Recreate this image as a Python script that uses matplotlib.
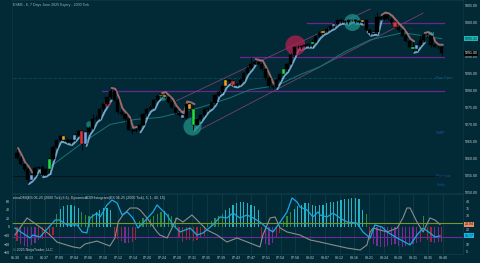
import numpy as np
import matplotlib
matplotlib.use("Agg")
import matplotlib.pyplot as plt
from matplotlib import transforms

# ---- price bars (2000 tick) ----
close = [5260.25, 5258.25, 5256.75, 5253.75, 5255.25, 5257.25, 5257.5, 5255.25, 5256.75, 5259.75,
         5263.5, 5265.5, 5266.5, 5265.5, 5264.75, 5265.5, 5267.0, 5268.0, 5264.25, 5267.75,
         5269.0, 5271.5, 5272.0, 5274.5, 5276.0, 5278.0, 5280.0, 5277.25, 5273.75, 5273.0,
         5271.5, 5268.5, 5268.0, 5268.5, 5270.0, 5273.0, 5274.5, 5275.25, 5277.25, 5278.5,
         5278.75, 5278.0, 5276.75, 5275.0, 5273.5, 5272.75, 5272.0, 5276.0, 5274.5, 5270.0,
         5271.5, 5272.75, 5274.5, 5275.0, 5276.5, 5278.75, 5279.75, 5281.5, 5283.25, 5282.75,
         5281.75, 5282.0, 5283.25, 5285.25, 5286.75, 5288.0, 5288.5, 5288.0, 5286.25, 5283.75,
         5281.5, 5281.0, 5283.25, 5285.0, 5286.25, 5288.0, 5290.5, 5293.0, 5292.75, 5293.25,
         5293.5, 5293.75, 5294.5, 5296.25, 5297.0, 5297.75, 5298.25, 5299.0, 5299.75, 5300.75,
         5300.5, 5300.25, 5300.75, 5300.75, 5300.5, 5300.25, 5300.75, 5298.0, 5297.0, 5297.25,
         5301.75, 5301.25, 5302.25, 5301.25, 5300.25, 5298.75, 5298.0, 5296.25, 5294.75, 5293.0,
         5292.25, 5293.5, 5295.0, 5296.5, 5296.0, 5293.5, 5293.0, 5292.75, 5291.0]
first_open = 5261.5
hi_ext = [1.25, 0.5, 0.25, 0.5, 0.25, 0.5, 0.25, 0.5, 0.25, 0.75,
          0.5, 0.25, 0.5, 0.25, 0.5, 0.25, 0.5, 0.25, 0.5, 0.25,
          0.5, 1.5, 0.75, 0.25, 0.5, 0.25, 0.5, 0.25, 0.5, 0.75,
          0.25, 0.5, 0.25, 0.5, 0.25, 0.5, 0.25, 0.5, 0.25, 0.5,
          0.25, 0.5, 0.25, 0.5, 0.25, 0.5, 0.25, 0.5, 0.25, 1.25,
          0.5, 0.25, 0.5, 0.25, 0.5, 0.25, 0.5, 0.25, 0.5, 0.25,
          0.5, 0.25, 0.5, 0.25, 0.5, 2.0, 0.5, 0.25, 0.5, 0.25,
          0.5, 0.25, 0.5, 0.25, 0.5, 0.25, 0.5, 0.25, 0.5, 0.25,
          0.5, 0.25, 0.75, 0.25, 0.5, 0.25, 0.5, 0.25, 0.5, 0.25,
          0.5, 0.25, 0.5, 0.25, 0.5, 0.25, 0.5, 0.25, 0.5, 0.25,
          1.5, 0.25, 0.5, 0.25, 0.5, 0.25, 0.5, 0.25, 0.5, 0.25,
          1.25, 0.5, 1.5, 0.25, 0.5, 0.25, 0.5, 0.25, 0.5]
lo_ext = [0.5, 0.25, 0.5, 1.0, 0.25, 0.5, 0.25, 0.5, 0.25, 1.0,
          0.25, 0.5, 0.25, 0.5, 0.25, 0.5, 0.25, 0.5, 1.75, 0.25,
          0.5, 0.25, 0.5, 0.25, 0.5, 0.25, 0.5, 0.25, 0.5, 0.25,
          0.5, 0.25, 0.75, 0.25, 0.5, 0.25, 0.5, 0.25, 0.5, 0.25,
          0.5, 0.25, 0.5, 0.25, 0.5, 0.25, 0.5, 0.25, 0.5, 1.5,
          0.25, 0.5, 0.25, 0.5, 0.25, 0.5, 0.25, 0.5, 0.25, 0.5,
          0.25, 0.5, 0.25, 0.5, 0.25, 0.5, 0.25, 0.5, 0.25, 0.5,
          0.75, 0.5, 0.25, 0.5, 0.25, 0.5, 0.25, 0.5, 0.25, 0.5,
          0.25, 0.5, 0.75, 0.25, 0.5, 0.25, 0.5, 0.25, 0.5, 0.25,
          0.5, 0.25, 0.5, 0.25, 0.5, 0.25, 0.5, 0.25, 0.5, 0.25,
          0.5, 0.25, 0.5, 0.25, 0.5, 0.25, 0.5, 0.25, 0.5, 0.25,
          0.75, 0.5, 0.25, 0.5, 0.25, 0.5, 0.25, 0.5, 0.75]

# painted bars (bar index -> colour name)
painted = {4: "blue", 9: "green", 13: "orange", 16: "blue", 18: "red", 19: "blue",
           40: "orange", 41: "orange", 46: "blue", 48: "orange", 49: "green", 58: "orange",
           60: "red", 74: "green", 82: "green", 85: "orange", 88: "blue", 93: "blue",
           96: "orange", 99: "blue", 105: "red", 110: "green", 111: "blue", 114: "red"}

# trail runs (first bar, last bar)
up_runs = [(3, 9), (9, 17), (19, 26), (34, 40), (49, 57), (57, 66), (72, 82), (82, 96), (97, 101), (110, 113)]
down_runs = [(0, 4), (26, 33), (40, 49), (66, 71), (101, 110), (113, 118)]

sma_idx = [9, 17.5, 25.8, 32.8, 39.7, 50.8, 59.2, 64.7, 72.2, 78.6, 84.2, 91.1, 98.1, 107.2, 114.7, 118]
sma_val = [5257.35, 5264.1, 5270.0, 5271.5, 5272.1, 5275.0, 5277.9, 5280.3, 5281.5, 5284.7,
           5287.1, 5291.5, 5295.0, 5297.1, 5295.9, 5295.31]

# horizontal levels: (price, first bar)
purple_levels = [(5300.0, 80.6), (5290.0, 61.9), (5280.0, 23.6)]
prior_open = 5283.75
prior_low = 5254.75

# channel lines: (bar0, price0, bar1, price1)
channel = [(44.4, 5277.06, 98.1, 5304.1), (50.8, 5268.5, 112.8, 5302.9)]

# circle markers: (bar, price, size, colour)
circles = [(77.2, 5293.5, 210, "#b3204f"), (93.1, 5300.3, 150, "#1f9088"),
           (48.6, 5269.7, 170, "#1f9088"), (20.0, 5270.3, 22, "#1f9088"),
           (25.0, 5276.5, 22, "#b3204f"), (40.5, 5278.2, 22, "#1f9088")]

time_labels = ["06:30", "06:33", "06:37", "07:00", "07:04", "07:06", "07:10", "07:12", "07:14", "07:20",
               "07:24", "07:28", "07:31", "07:35", "07:39", "07:43", "07:47", "07:51", "07:54", "07:58",
               "08:02", "08:07", "08:12", "08:16", "08:21", "08:24", "08:28", "08:31", "08:35", "08:40"]

# ---- indicator panel ----
dmi_idx = [-0.6, 3.6, 4.4, 6.4, 10.6, 11.9, 13.9, 16.7, 18.1, 19.4, 20.3, 22.2, 23.1, 25.0, 26.4,
           27.8, 29.2, 30.6, 32.2, 33.6, 35.0, 37.8, 38.9, 39.7, 41.7, 43.3, 45.3, 48.1, 50.0, 51.7,
           54.4, 56.4, 58.3, 60.0, 61.9, 63.9, 65.6, 67.5, 69.4, 71.1, 73.1, 75.0, 76.4, 77.8, 78.6,
           80.6, 82.2, 83.6, 84.2, 86.1, 87.8, 89.7, 91.7, 94.4, 96.1, 98.1, 99.4, 101.4, 102.8, 105.6,
           109.2, 111.1, 112.8, 114.7, 116.1, 117.5]
dmi_val = [21.4, 14.3, 16.4, 15.0, 27.1, 27.1, 23.6, 23.6, 18.6, 17.9, 28.6, 32.1, 29.3, 37.9, 41.4,
           39.3, 30.7, 32.9, 28.6, 21.4, 25.0, 32.9, 37.9, 35.7, 30.7, 23.6, 18.6, 21.4, 16.4, 17.9,
           23.6, 29.3, 28.6, 32.1, 28.6, 30.7, 28.6, 25.7, 21.4, 18.6, 25.7, 32.9, 42.9, 40.0, 36.4,
           34.3, 29.3, 32.9, 30.7, 29.3, 32.1, 28.6, 25.7, 25.0, 18.6, 14.3, 23.6, 22.1, 18.6, 14.3,
           9.3, 16.4, 21.4, 17.9, 15.0, 15.77]
adx_idx = [-0.6, 2.8, 6.4, 9.2, 11.1, 15.6, 17.5, 18.9, 22.2, 25.8, 27.2, 28.1, 29.4, 31.4, 33.3,
           34.2, 36.1, 38.9, 39.7, 41.7, 44.4, 46.1, 48.6, 50.0, 52.8, 55.6, 58.3, 61.1, 64.7, 67.5,
           68.3, 70.3, 71.7, 73.1, 75.0, 78.6, 81.4, 84.2, 87.8, 91.7, 95.3, 97.2, 98.1, 98.9, 102.8,
           105.6, 107.2, 108.3, 109.2, 111.1, 112.8, 114.7, 116.1, 117.5]
adx_val = [16.4, 28.6, 22.1, 16.4, 11.4, 7.9, 7.1, 10.0, 12.1, 8.6, 14.3, 25.7, 30.7, 35.7, 35.7,
           34.3, 28.6, 18.6, 16.4, 14.3, 28.6, 25.7, 30.7, 27.1, 20.0, 16.4, 11.4, 14.3, 10.7, 7.9,
           16.4, 28.6, 29.3, 21.4, 18.6, 16.4, 12.9, 11.4, 9.3, 7.1, 5.7, 9.3, 18.6, 21.4, 18.6,
           21.4, 28.6, 35.7, 35.7, 25.7, 18.6, 28.6, 27.1, 23.94]
adx_hist = [-32, -40, -45, -47, -42, -38, -30, -28, -25, -22, -18,
            30, 42, 48, 50, 50, 48, 45, 35, 28, 25,
            30, 36, 40, 44, 44, 40, -20, -28, -33, -37, -37, -35, -30,
            15, 20, 22, 18, 25, 30, 35, 38, 30, 25, 20,
            -25, -35, -30, -30, -32, -30, -25, -20,
            10, 15, 20, 25, 30, 40, 45, 50, 55, 58, 58, 55, 52, 48, 40,
            -30, -40, -42, -38, -25, -15,
            15, 25, 35, 42, 48, 52, 55, 55, 50, 48,
            50, 52, 55, 57, 58, 60, 62, 64, 66, 67, 67, 65,
            40, 30, -30, -40, -45, -46, -46, -44, -42, -40,
            -44, -46, -45, -43, -40, -38, -35, 25,
            -30, -35, -37, -36, -34]
adx_upper = 25
adx_lower = 15

# ---- style ----
plt.rcParams["font.family"] = ["Liberation Sans", "DejaVu Sans"]
BG = "#022a36"
TXT = "#c3cdd1"
FS = 2.6
PAINT = {"blue": "#7aa6e6", "green": "#1fe040", "orange": "#f5a21e", "red": "#e2303c"}

n = len(close)
x = np.arange(n)
opens = np.array([first_open] + close[:-1])
closes = np.array(close)
highs = np.maximum(opens, closes) + np.array(hi_ext)
lows = np.minimum(opens, closes) - np.array(lo_ext)

fig = plt.figure(figsize=(4.8, 2.63), dpi=100, facecolor=BG)
ax = fig.add_axes([0.025, 0.2662, 0.9396, 0.7338], facecolor=BG)
ax2 = fig.add_axes([0.025, 0.0342, 0.9396, 0.2282], facecolor=BG, sharex=ax)
ax3 = ax2.twinx()

# levels
for price, start in purple_levels:
    ax.plot([start, n - 0.4], [price, price], color="#6a2690", lw=0.9, zorder=1)
ax.plot([-1, n - 0.4], [prior_open, prior_open], color="#0d4b5a", lw=0.6, ls=(0, (4, 2)), zorder=1)
ax.plot([-1.4, n - 0.4], [prior_low, prior_low], color="#06161c", lw=0.7, zorder=1)
for b0, p0, b1, p1 in channel:
    ax.plot([b0, b1], [p0, p1], color="#7a3f6e", lw=0.6, zorder=1)
ax.plot(sma_idx, sma_val, color="#167676", lw=0.7, zorder=1)

# trail bands, drawn just outside the bars
for a, b in up_runs:
    ax.plot(x[a:b + 1] + 0.3, lows[a:b + 1] - 0.3, color="#8ec6ec", lw=1.4, alpha=0.8, zorder=2,
            solid_capstyle="round")
for a, b in down_runs:
    ax.plot(x[a:b + 1] + 0.3, highs[a:b + 1] + 0.3, color="#c77a78", lw=1.4, alpha=0.8, zorder=2,
            solid_capstyle="round")

# circles
for b, p, s, c in circles:
    ax.scatter([b], [p], s=s, color=c, alpha=0.75, lw=0, zorder=3)

# candles
body_col = [PAINT[painted[i]] if i in painted else "#000000" for i in range(n)]
ax.vlines(x, lows, highs, color="#000000", lw=0.6, zorder=4)
ax.bar(x, np.maximum(np.abs(closes - opens), 0.25), bottom=np.minimum(opens, closes),
       width=0.85, color=body_col, edgecolor="#000000", linewidth=0.3, zorder=5)

ax.set_xlim((12 - 17) / 3.6, (463 - 17) / 3.6)
ax.set_ylim(5249.8, 5306.76)
ax.yaxis.tick_right()
ax.set_yticks(np.arange(5250, 5306, 5))
ax.set_yticklabels([f"{v:.2f}" for v in np.arange(5250, 5306, 5)])
ax.tick_params(axis="y", labelsize=FS, colors=TXT, length=0, pad=1.2)
ax.tick_params(axis="x", bottom=False, labelbottom=False)
for s in ax.spines.values():
    s.set_color("#0d3a46")
    s.set_linewidth(0.5)

ax.text(0.003, 0.985, "ESM5 - 6, 7 Days June 2025 Expiry - 2000 Tick", transform=ax.transAxes,
        fontsize=FS, color="#9fb3bb", va="top", ha="left")

tr = transforms.blended_transform_factory(ax.transAxes, ax.transData)
ax.text(1.003, sma_val[-1], f"{sma_val[-1]:.2f}", transform=tr, fontsize=FS, color="#022a36",
        va="center", ha="left", bbox=dict(boxstyle="square,pad=0.15", fc="#1fb8b8", ec="none"))
ax.text(1.003, close[-1], f"{close[-1]:.2f}", transform=tr, fontsize=FS, color="#ffffff",
        va="center", ha="left", bbox=dict(boxstyle="square,pad=0.15", fc="#000000", ec="none"))
ax.text(116.5, prior_open, "Prior Open", fontsize=2.4, color="#1d5d8c", va="center")
ax.text(116.5, 5267.65, "VWAP", fontsize=2.4, color="#1d4f9c", va="center")
ax.text(116.5, prior_low, "Prior Low", fontsize=2.4, color="#1d4f9c", va="center")
ax.text(116.5, 5252.1, "Settle", fontsize=2.4, color="#1d4f9c", va="center")
ax.text(114, 5296.8, "SMA", fontsize=2.4, color="#2ab8b8", va="center")

# indicator panel
hist_col = []
for v in adx_hist:
    if v > 35:
        hist_col.append("#22b4c4")
    elif v > 0:
        hist_col.append("#2c8a3c")
    elif v < -35:
        hist_col.append("#7a2a9c")
    else:
        hist_col.append("#a3223c")
ax2.bar(x, adx_hist, width=0.3, color=hist_col, zorder=2)
ax2.set_ylim((227 - 254) / 0.43, (227 - 194) / 0.43)
ax2.set_yticks([60, 40, 20, 0, -20, -40, -60])
ax2.tick_params(axis="y", labelsize=FS, colors=TXT, length=0, pad=1.5)
ticks = np.linspace((15 - 17) / 3.6, (443 - 17) / 3.6, len(time_labels))
ax2.set_xticks(ticks)
ax2.set_xticklabels(time_labels)
ax2.tick_params(axis="x", labelsize=FS, colors=TXT, length=0, pad=1.5)
ax2.grid(axis="x", color="#0e3f4a", lw=0.5)
ax2.set_axisbelow(True)

ax3.axhline(adx_upper, color="#7f9428", lw=0.8, zorder=1)
ax3.axhline(adx_lower, color="#6b2a9e", lw=0.8, zorder=1)
ax3.plot(adx_idx, adx_val, color="#8c8c8c", lw=0.8)
ax3.plot(dmi_idx, dmi_val, color="#1aa8e0", lw=0.9)
ax3.set_ylim(40 - (254 - 202) / 1.4, 40 + (202 - 194) / 1.4)
# 25 and 15 sit under the value boxes
ax3.set_yticks([40, 35, 30, 20, 10, 5])
ax3.tick_params(axis="y", labelsize=FS, colors=TXT, length=0, pad=2)
tr3 = transforms.blended_transform_factory(ax3.transAxes, ax3.transData)
ax3.text(1.003, adx_val[-1], f"{adx_val[-1]:.2f}", transform=tr3, fontsize=FS, color="#022a36",
         va="center", ha="left", bbox=dict(boxstyle="square,pad=0.15", fc="#ef8c62", ec="none"))
ax3.text(1.003, dmi_val[-1], f"{dmi_val[-1]:.2f}", transform=tr3, fontsize=FS, color="#022a36",
         va="center", ha="left", bbox=dict(boxstyle="square,pad=0.15", fc="#19b6e8", ec="none"))
for a in (ax2, ax3):
    for s in a.spines.values():
        s.set_color("#0d3a46")
        s.set_linewidth(0.5)

ax2.text(0.003, 0.97, "emaDMI(ES 06-25 (2000 Tick),6,6), DynamicADXHistogram(ES 06-25 (2000 Tick), 5, 1, 40, 15)",
         transform=ax2.transAxes, fontsize=FS, color="#c3cdd1", va="top", ha="left")
ax2.text(0.003, 0.03, "\u00a9 2025 NinjaTrader, LLC", transform=ax2.transAxes, fontsize=FS,
         color="#c3cdd1", va="bottom", ha="left")

fig.savefig("out.png", dpi=100, facecolor=BG)
